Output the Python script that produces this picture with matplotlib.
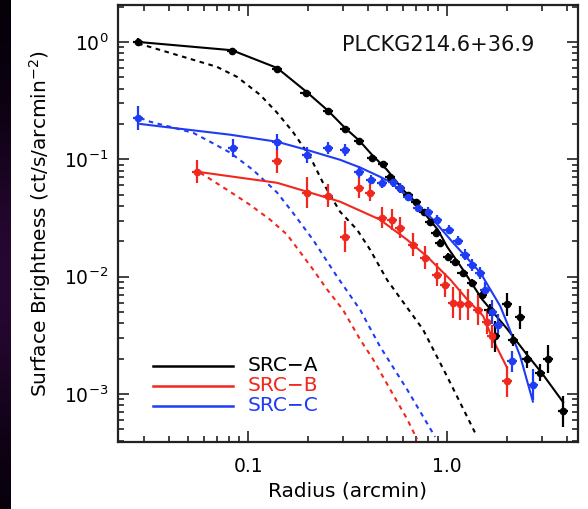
import numpy as np
import matplotlib
matplotlib.use("Agg")
import matplotlib.pyplot as plt
from matplotlib.ticker import LogLocator, NullFormatter, FixedLocator, FixedFormatter

plt.rcParams['font.family'] = ['DejaVu Sans']
plt.rcParams['mathtext.fontset'] = 'dejavusans'

# ---- SRC-A (black) ----
a_r = [0.028, 0.083, 0.140, 0.195, 0.252, 0.307, 0.361, 0.42, 0.477, 0.518, 0.58, 0.637,
       0.698, 0.766, 0.822, 0.882, 0.922, 1.01, 1.10, 1.20, 1.34, 1.50, 1.64, 1.74,
       2.00, 2.15, 2.33, 2.52, 2.93, 3.22, 3.83]
a_sb = [1.00, 0.84, 0.59, 0.37, 0.26, 0.18, 0.144, 0.103, 0.092, 0.070, 0.057, 0.050,
        0.0435, 0.0357, 0.0294, 0.0237, 0.0195, 0.0148, 0.0132, 0.0108, 0.0089, 0.0070, 0.0052, 0.0031,
        0.0058, 0.0029, 0.0045, 0.00197, 0.00152, 0.00197, 0.00071]
a_err = [0.03, 0.02, 0.02, 0.02, 0.02, 0.02, 0.02, 0.02, 0.02, 0.02, 0.02, 0.02,
         0.02, 0.02, 0.02, 0.03, 0.03, 0.03, 0.03, 0.03, 0.03, 0.04, 0.05, 0.13,
         0.10, 0.05, 0.10, 0.07, 0.07, 0.12, 0.13]
a_model_r = [0.028, 0.083, 0.140, 0.195, 0.252, 0.307, 0.361, 0.42, 0.50, 0.60, 0.70, 0.80,
             0.90, 1.0, 1.2, 1.5, 2.0, 2.5, 3.0, 3.83]
a_model = [1.00, 0.85, 0.60, 0.38, 0.26, 0.185, 0.145, 0.109, 0.081, 0.055, 0.0426, 0.032,
           0.025, 0.018, 0.0115, 0.0064, 0.0036, 0.0022, 0.0015, 0.00085]
a_psf_r = [0.028, 0.0322, 0.0493, 0.0698, 0.088, 0.115, 0.140, 0.168, 0.205, 0.238, 0.290,
           0.353, 0.410, 0.499, 0.580, 0.757, 1.0, 1.38]
a_psf = [0.97, 0.906, 0.731, 0.613, 0.504, 0.354, 0.249, 0.171, 0.105, 0.063, 0.0357,
         0.0251, 0.0170, 0.0094, 0.0066, 0.00354, 0.00141, 0.00047]

# ---- SRC-B (red) ----
b_r = [0.0555, 0.140, 0.198, 0.252, 0.307, 0.361, 0.410, 0.471, 0.530, 0.580, 0.675, 0.775,
       0.891, 0.977, 1.07, 1.16, 1.28, 1.43, 1.59, 1.68, 2.00]
b_sb = [0.0783, 0.097, 0.0519, 0.0489, 0.0219, 0.0572, 0.0519, 0.0318, 0.0306, 0.0261, 0.0187, 0.0145,
        0.0104, 0.0085, 0.0060, 0.0058, 0.0058, 0.0052, 0.0041, 0.0031, 0.00128]
b_err = [0.10, 0.10, 0.13, 0.10, 0.13, 0.09, 0.07, 0.09, 0.09, 0.09, 0.10, 0.10,
         0.10, 0.10, 0.13, 0.13, 0.13, 0.13, 0.10, 0.10, 0.13]
b_model_r = [0.0555, 0.140, 0.198, 0.290, 0.460, 0.630, 0.794, 1.04, 1.26, 1.52, 1.70, 2.00]
b_model = [0.0783, 0.063, 0.0529, 0.0435, 0.0306, 0.0206, 0.0148, 0.0094, 0.0064, 0.0046, 0.0029, 0.00168]
b_psf_r = [0.0574, 0.063, 0.0812, 0.102, 0.129, 0.157, 0.182, 0.212, 0.249, 0.300, 0.366,
           0.425, 0.518, 0.630, 0.707]
b_psf = [0.0767, 0.0696, 0.0529, 0.041, 0.0306, 0.0228, 0.0163, 0.0115, 0.0078, 0.0052, 0.0029,
         0.00197, 0.00109, 0.00061, 0.00041]

# ---- SRC-C (blue) ----
c_r = [0.028, 0.084, 0.140, 0.198, 0.252, 0.307, 0.361, 0.415, 0.471, 0.535, 0.580, 0.637,
       0.715, 0.803, 0.891, 1.02, 1.14, 1.23, 1.34, 1.47, 1.55, 1.68, 1.80, 2.12, 2.70]
c_sb = [0.225, 0.125, 0.141, 0.109, 0.125, 0.120, 0.078, 0.067, 0.063, 0.064, 0.057, 0.048,
        0.0387, 0.0357, 0.0306, 0.0251, 0.0202, 0.0154, 0.0126, 0.0108, 0.0077, 0.0050, 0.0039, 0.00189, 0.00120]
c_err = [0.10, 0.08, 0.07, 0.07, 0.05, 0.05, 0.05, 0.04, 0.04, 0.04, 0.04, 0.04,
         0.04, 0.04, 0.04, 0.04, 0.04, 0.05, 0.05, 0.05, 0.07, 0.10, 0.09, 0.09, 0.13]
c_model_r = [0.0287, 0.0455, 0.0812, 0.140, 0.198, 0.290, 0.366, 0.460, 0.518, 0.706, 0.851,
             1.07, 1.47, 1.85, 2.07, 2.33, 2.70]
c_model = [0.200, 0.182, 0.162, 0.141, 0.120, 0.099, 0.085, 0.071, 0.064, 0.041, 0.0306,
           0.0195, 0.0108, 0.0056, 0.0035, 0.0021, 0.00086]
c_psf_r = [0.0287, 0.0322, 0.0406, 0.053, 0.0645, 0.0812, 0.106, 0.140, 0.168, 0.212, 0.280,
           0.366, 0.460, 0.630, 0.871]
c_psf = [0.225, 0.209, 0.189, 0.168, 0.141, 0.114, 0.081, 0.052, 0.035, 0.0206, 0.0100,
         0.0052, 0.00254, 0.00109, 0.00043]

labels = ["SRC\u2212A", "SRC\u2212B", "SRC\u2212C"]
colors = ["black", "#f0281e", "#1e3cf5"]

W, H = 588, 509
fig = plt.figure(figsize=(W / 100, H / 100), dpi=100)

# dark strip along the left edge
strip = fig.add_axes([0, 0, 11 / W, 1])
yy = np.linspace(0, 1, 200)[:, None]
glow = np.exp(-((yy - 0.55) / 0.3) ** 2)
img = np.zeros((200, 1, 3))
img[..., 0] = 0.02 + 0.13 * glow
img[..., 1] = 0.00 + 0.03 * glow
img[..., 2] = 0.03 + 0.17 * glow
strip.imshow(img, aspect='auto', extent=[0, 1, 0, 1])
strip.set_axis_off()

ax = fig.add_axes([118 / W, 1 - 442 / H, 460 / W, 437 / H])
ax.set_xscale('log')
ax.set_yscale('log')
ax.set_xlim(0.0222, 4.55)
ax.set_ylim(10 ** -3.41, 10 ** 0.315)

def draw(r, sb, err, mr, mv, pr, pv, col):
    r = np.asarray(r); sb = np.asarray(sb); err = np.asarray(err)
    lo = sb - sb * 10 ** (-err)
    hi = sb * 10 ** err - sb
    ax.plot(pr, pv, color=col, lw=1.5, ls=(0, (2.2, 2.2)), zorder=2)
    ax.plot(mr, mv, color=col, lw=1.5, zorder=3)
    ax.errorbar(r, sb, yerr=[lo, hi], xerr=[r * 0.06, r * 0.06], fmt='o', ms=4.5,
                color=col, ecolor=col, elinewidth=1.6, capsize=0, zorder=4)

draw(a_r, a_sb, a_err, a_model_r, a_model, a_psf_r, a_psf, colors[0])
draw(b_r, b_sb, b_err, b_model_r, b_model, b_psf_r, b_psf, colors[1])
draw(c_r, c_sb, c_err, c_model_r, c_model, c_psf_r, c_psf, colors[2])

# ticks
ax.xaxis.set_major_locator(FixedLocator([0.1, 1.0]))
ax.xaxis.set_major_formatter(FixedFormatter(["0.1", "1.0"]))
ax.xaxis.set_minor_locator(LogLocator(base=10, subs=np.arange(2, 10), numticks=20))
ax.xaxis.set_minor_formatter(NullFormatter())
ax.yaxis.set_major_locator(FixedLocator([1e-3, 1e-2, 1e-1, 1e0]))
ax.yaxis.set_major_formatter(FixedFormatter([r"$10^{-3}$", r"$10^{-2}$", r"$10^{-1}$", r"$10^{0}$"]))
ax.yaxis.set_minor_locator(LogLocator(base=10, subs=np.arange(2, 10), numticks=20))
ax.yaxis.set_minor_formatter(NullFormatter())
ax.tick_params(which='both', direction='in', top=True, right=True, width=1.2, color='#222222')
ax.tick_params(which='major', length=8)
ax.tick_params(which='minor', length=4)
ax.tick_params(axis='x', which='major', pad=11, labelsize=13.5)
ax.tick_params(axis='y', which='major', pad=7, labelsize=13.5)
for s in ax.spines.values():
    s.set_linewidth(1.6)
    s.set_color('#222222')

ax.set_xlabel("Radius (arcmin)", fontsize=14.5, labelpad=4)
ax.set_ylabel(r"Surface Brightness (ct/s/arcmin$^{-2}$)", fontsize=14.5, labelpad=8)

ax.text(0.487, 0.908, "PLCKG214.6+36.9", transform=ax.transAxes, fontsize=15,
        ha='left', va='center', color='#111111')

# legend
for i, (lab, col) in enumerate(zip(labels, colors)):
    yl = 0.175 - i * 0.0458
    ax.plot([0.076, 0.250], [yl, yl], transform=ax.transAxes, color=col, lw=1.8)
    ax.text(0.282, yl, lab, transform=ax.transAxes, color=col, fontsize=14.5,
            ha='left', va='center')

fig.savefig("out.png", dpi=100)
